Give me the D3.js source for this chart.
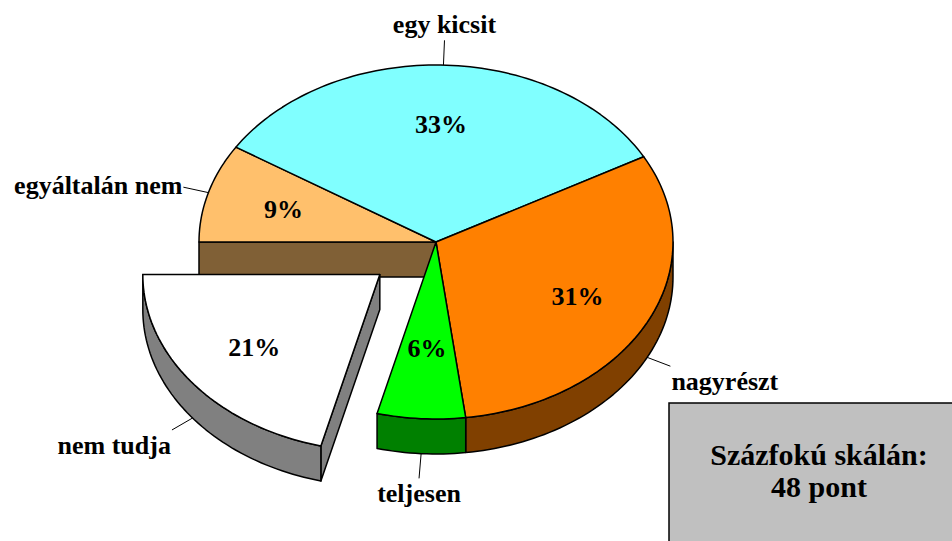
<!DOCTYPE html>
<html>
<head>
<meta charset="utf-8">
<script src="https://cdn.jsdelivr.net/npm/d3@7"></script>
<style>
  body { margin: 0; background: #fff; }
</style>
</head>
<body>
<div id="chart-area"></div>
<script>
// data
var categories = ["egyáltalán nem", "egy kicsit", "nagyrészt", "teljesen", "nem tudja"];
var values = [9, 33, 31, 6, 21];
var topColors = ["#FFC06C", "#80FFFF", "#FF8000", "#00FF00", "#FFFFFF"];
var sideColors = ["#806036", "#408080", "#804000", "#008000", "#808080"];
var explodedCategory = "nem tudja";
var boxLines = ["Százfokú skálán:", "48 pont"];

var width = 952, height = 541;
var cx = 436, cy = 242, rx = 237, ry = 177, depth = 35;
var explodeK = 0.3;
var serif = "'Liberation Serif', 'Times New Roman', Times, serif";

var svg = d3.select("#chart-area").append("svg")
    .attr("width", width)
    .attr("height", height)
    .attr("font-family", serif)
    .attr("font-weight", "bold");

var data = categories.map(function (c, i) {
    return {name: c, value: values[i], top: topColors[i], side: sideColors[i]};
});

var pie = d3.pie()
    .sort(null)
    .startAngle(-Math.PI / 2)
    .endAngle(3 * Math.PI / 2)
    .value(function (d) { return d.value; });

var arcs = pie(data);
var total = d3.sum(values);

arcs.forEach(function (a, i) {
    a.mid = (a.startAngle + a.endAngle) / 2;
    a.exploded = a.data.name === explodedCategory;
    a.dx = a.exploded ? explodeK * rx * Math.sin(a.mid) : 0;
    a.dy = a.exploded ? -explodeK * ry * Math.cos(a.mid) : 0;
});

function pt(a, r, s, down) {
    return [cx + s.dx + rx * r * Math.sin(a), cy + s.dy - ry * r * Math.cos(a) + (down || 0)];
}

function arcPoints(s, a0, a1, down) {
    var n = Math.max(2, Math.ceil((a1 - a0) * 40));
    return d3.range(n + 1).map(function (i) {
        return pt(a0 + (a1 - a0) * i / n, 1, s, down);
    });
}

var line = d3.line();

function topPath(s) {
    var pts = [pt(0, 0, s)].concat(arcPoints(s, s.startAngle, s.endAngle));
    return line(pts) + "Z";
}

function outerSide(s) {
    var a0 = Math.max(s.startAngle, Math.PI / 2),
        a1 = Math.min(s.endAngle, 3 * Math.PI / 2);
    if (a1 <= a0) return null;
    var pts = arcPoints(s, a0, a1).concat(arcPoints(s, a0, a1, depth).reverse());
    return line(pts) + "Z";
}

function radialFace(s, a) {
    var pts = [pt(a, 0, s), pt(a, 1, s), pt(a, 1, s, depth), pt(a, 0, s, depth)];
    return line(pts) + "Z";
}

function face(d, fill) {
    svg.append("path").attr("d", d)
        .attr("fill", fill).attr("stroke", "#000").attr("stroke-width", 1.5)
        .attr("stroke-linejoin", "round");
}

function drawSides(s, i) {
    var prev = arcs[(i + arcs.length - 1) % arcs.length],
        next = arcs[(i + 1) % arcs.length];
    // cut faces, only where there is a gap next to them
    if ((s.exploded || prev.exploded) && Math.sin(s.startAngle) < 0) {
        face(radialFace(s, s.startAngle), s.data.side);
    }
    if ((s.exploded || next.exploded) && Math.sin(s.endAngle) > 0) {
        face(radialFace(s, s.endAngle), s.data.side);
    }
    var os = outerSide(s);
    if (os) face(os, s.data.side);
}

// main pie: sides first, then tops
arcs.forEach(function (a, i) { if (!a.exploded) drawSides(a, i); });
arcs.forEach(function (a) { if (!a.exploded) face(topPath(a), a.data.top); });

// exploded slice on top
arcs.forEach(function (a, i) {
    if (!a.exploded) return;
    drawSides(a, i);
    face(topPath(a), a.data.top);
});

// percent labels
arcs.forEach(function (a) {
    var r = a.value / total < 0.08 ? 0.6 : 0.67;
    var p = pt(a.mid, r, a);
    svg.append("text")
        .attr("x", p[0]).attr("y", p[1])
        .attr("dy", "0.35em")
        .attr("text-anchor", "middle")
        .attr("font-size", 26)
        .text(Math.round(a.value / total * 100) + "%");
});

// category labels with leader lines
arcs.forEach(function (a) {
    var c = Math.cos(a.mid), s = Math.sin(a.mid);
    var front = c < 0 ? depth : 0;
    var len = Math.abs(c) > 0.9 ? 1.14 : 1.11;
    var p0 = pt(a.mid, 1.0, a, front),
        p1 = pt(a.mid, len, a, front);
    svg.append("line")
        .attr("x1", p0[0]).attr("y1", p0[1])
        .attr("x2", p1[0]).attr("y2", p1[1])
        .attr("stroke", "#000").attr("stroke-width", 1);

    var anchor = Math.abs(s) < 0.2 ? "middle" : (s < 0 ? "end" : "start");
    var tx = p1[0] + (anchor === "end" ? -1 : (anchor === "start" ? 1 : 0));
    var ty = c > 0.9 ? p1[1] - 7 : (c < -0.4 ? p1[1] + 24 : p1[1] + 7);
    svg.append("text")
        .attr("x", tx).attr("y", ty)
        .attr("text-anchor", anchor)
        .attr("font-size", 26)
        .text(a.data.name);
});

// summary box
svg.append("rect")
    .attr("x", 669).attr("y", 403)
    .attr("width", 300).attr("height", 160)
    .attr("fill", "#C0C0C0").attr("stroke", "#000").attr("stroke-width", 1.5);

svg.selectAll(".box-text")
    .data(boxLines)
    .enter().append("text")
    .attr("class", "box-text")
    .attr("x", 819)
    .attr("y", function (d, i) { return 465 + i * 32; })
    .attr("text-anchor", "middle")
    .attr("font-size", 30)
    .text(function (d) { return d; });
</script>
</body>
</html>
